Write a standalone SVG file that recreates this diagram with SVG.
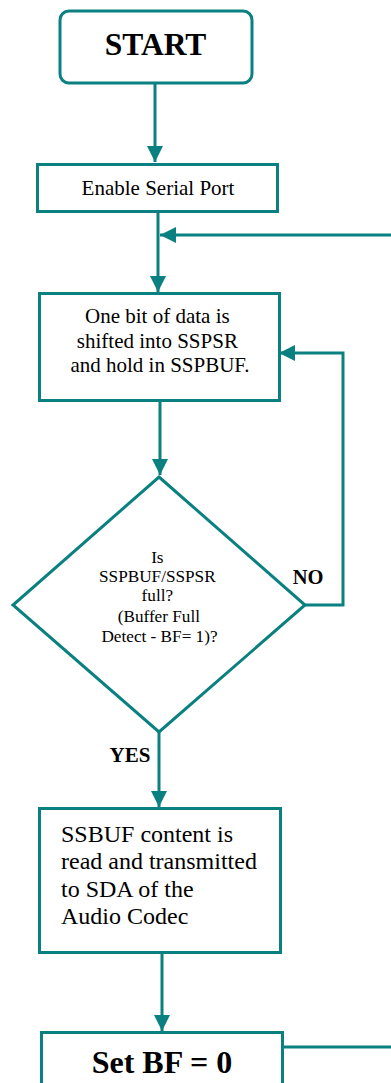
<svg xmlns="http://www.w3.org/2000/svg" width="391" height="1083" viewBox="0 0 391 1083">
  <style>
    .shape { fill: #ffffff; stroke: #0a8080; stroke-width: 3; }
    .wire { fill: none; stroke: #0a8080; stroke-width: 3; }
    .txt { font-family: "Liberation Serif", "Times New Roman", serif; fill: #000000; }
    .bold { font-weight: bold; }
  </style>
  <defs>
    <marker id="arrow" viewBox="0 0 16 16" refX="16" refY="8" markerWidth="16" markerHeight="16" markerUnits="userSpaceOnUse" orient="auto">
      <path d="M0,0 L16,8 L0,16 Z" fill="#0a8080"/>
    </marker>
  </defs>
  <rect width="391" height="1083" fill="#ffffff"/>

  <!-- connectors -->
  <g id="connectors">
    <line class="wire" x1="155" y1="84" x2="155" y2="162" marker-end="url(#arrow)"/>
    <line class="wire" x1="158" y1="213" x2="158" y2="292" marker-end="url(#arrow)"/>
    <line class="wire" x1="391" y1="235" x2="160" y2="235" marker-end="url(#arrow)"/>
    <line class="wire" x1="160" y1="401" x2="160" y2="475" marker-end="url(#arrow)"/>
    <polyline class="wire" points="305,605 343,605 343,353 279,353" marker-end="url(#arrow)"/>
    <line class="wire" x1="159" y1="732" x2="159" y2="807" marker-end="url(#arrow)"/>
    <line class="wire" x1="162" y1="954" x2="162" y2="1031" marker-end="url(#arrow)"/>
    <line class="wire" x1="282" y1="1047" x2="391" y2="1047"/>
    <text class="txt bold" x="308" y="584" font-size="20.5" text-anchor="middle">NO</text>
    <text class="txt bold" x="130" y="762" font-size="21" text-anchor="middle">YES</text>
  </g>

  <!-- start terminal -->
  <g id="start">
    <rect class="shape" x="60" y="11" width="192" height="72" rx="9"/>
    <text class="txt bold" x="155.5" y="55" font-size="31.5" text-anchor="middle">START</text>
  </g>

  <!-- enable port -->
  <g id="enable">
    <rect class="shape" x="37.5" y="164.5" width="240" height="47"/>
    <text class="txt" x="158" y="195" font-size="21" text-anchor="middle">Enable Serial Port</text>
  </g>

  <!-- shift bit -->
  <g id="shift">
    <rect class="shape" x="39.5" y="293.5" width="240" height="107"/>
    <text class="txt" font-size="21" text-anchor="middle">
      <tspan x="160" y="323">One bit of data is</tspan>
      <tspan x="160" y="348">shifted into SSPSR</tspan>
      <tspan x="160" y="372">and hold in SSPBUF.</tspan>
    </text>
  </g>

  <!-- buffer full decision -->
  <g id="decision">
    <polygon class="shape" points="159,477 305,605 159,732 13,605"/>
    <text class="txt" font-size="17.2" text-anchor="middle">
      <tspan x="159.5" y="563">Is</tspan>
      <tspan x="159.5" y="582">SSPBUF/SSPSR</tspan>
      <tspan x="159.5" y="601">full?</tspan>
      <tspan x="161" y="622">(Buffer Full</tspan>
      <tspan x="159.5" y="642">Detect - BF= 1)?</tspan>
    </text>
  </g>

  <!-- transmit -->
  <g id="transmit">
    <rect class="shape" x="39.5" y="808.5" width="241" height="144"/>
    <text class="txt" font-size="24">
      <tspan x="61" y="842">SSBUF content is</tspan>
      <tspan x="61" y="869">read and transmitted</tspan>
      <tspan x="61" y="897">to SDA of the</tspan>
      <tspan x="61" y="924">Audio Codec</tspan>
    </text>
  </g>

  <!-- clear flag -->
  <g id="clear">
    <rect class="shape" x="41.5" y="1032.5" width="241" height="70"/>
    <text class="txt bold" x="162" y="1073" font-size="32" text-anchor="middle">Set BF = 0</text>
  </g>
</svg>
